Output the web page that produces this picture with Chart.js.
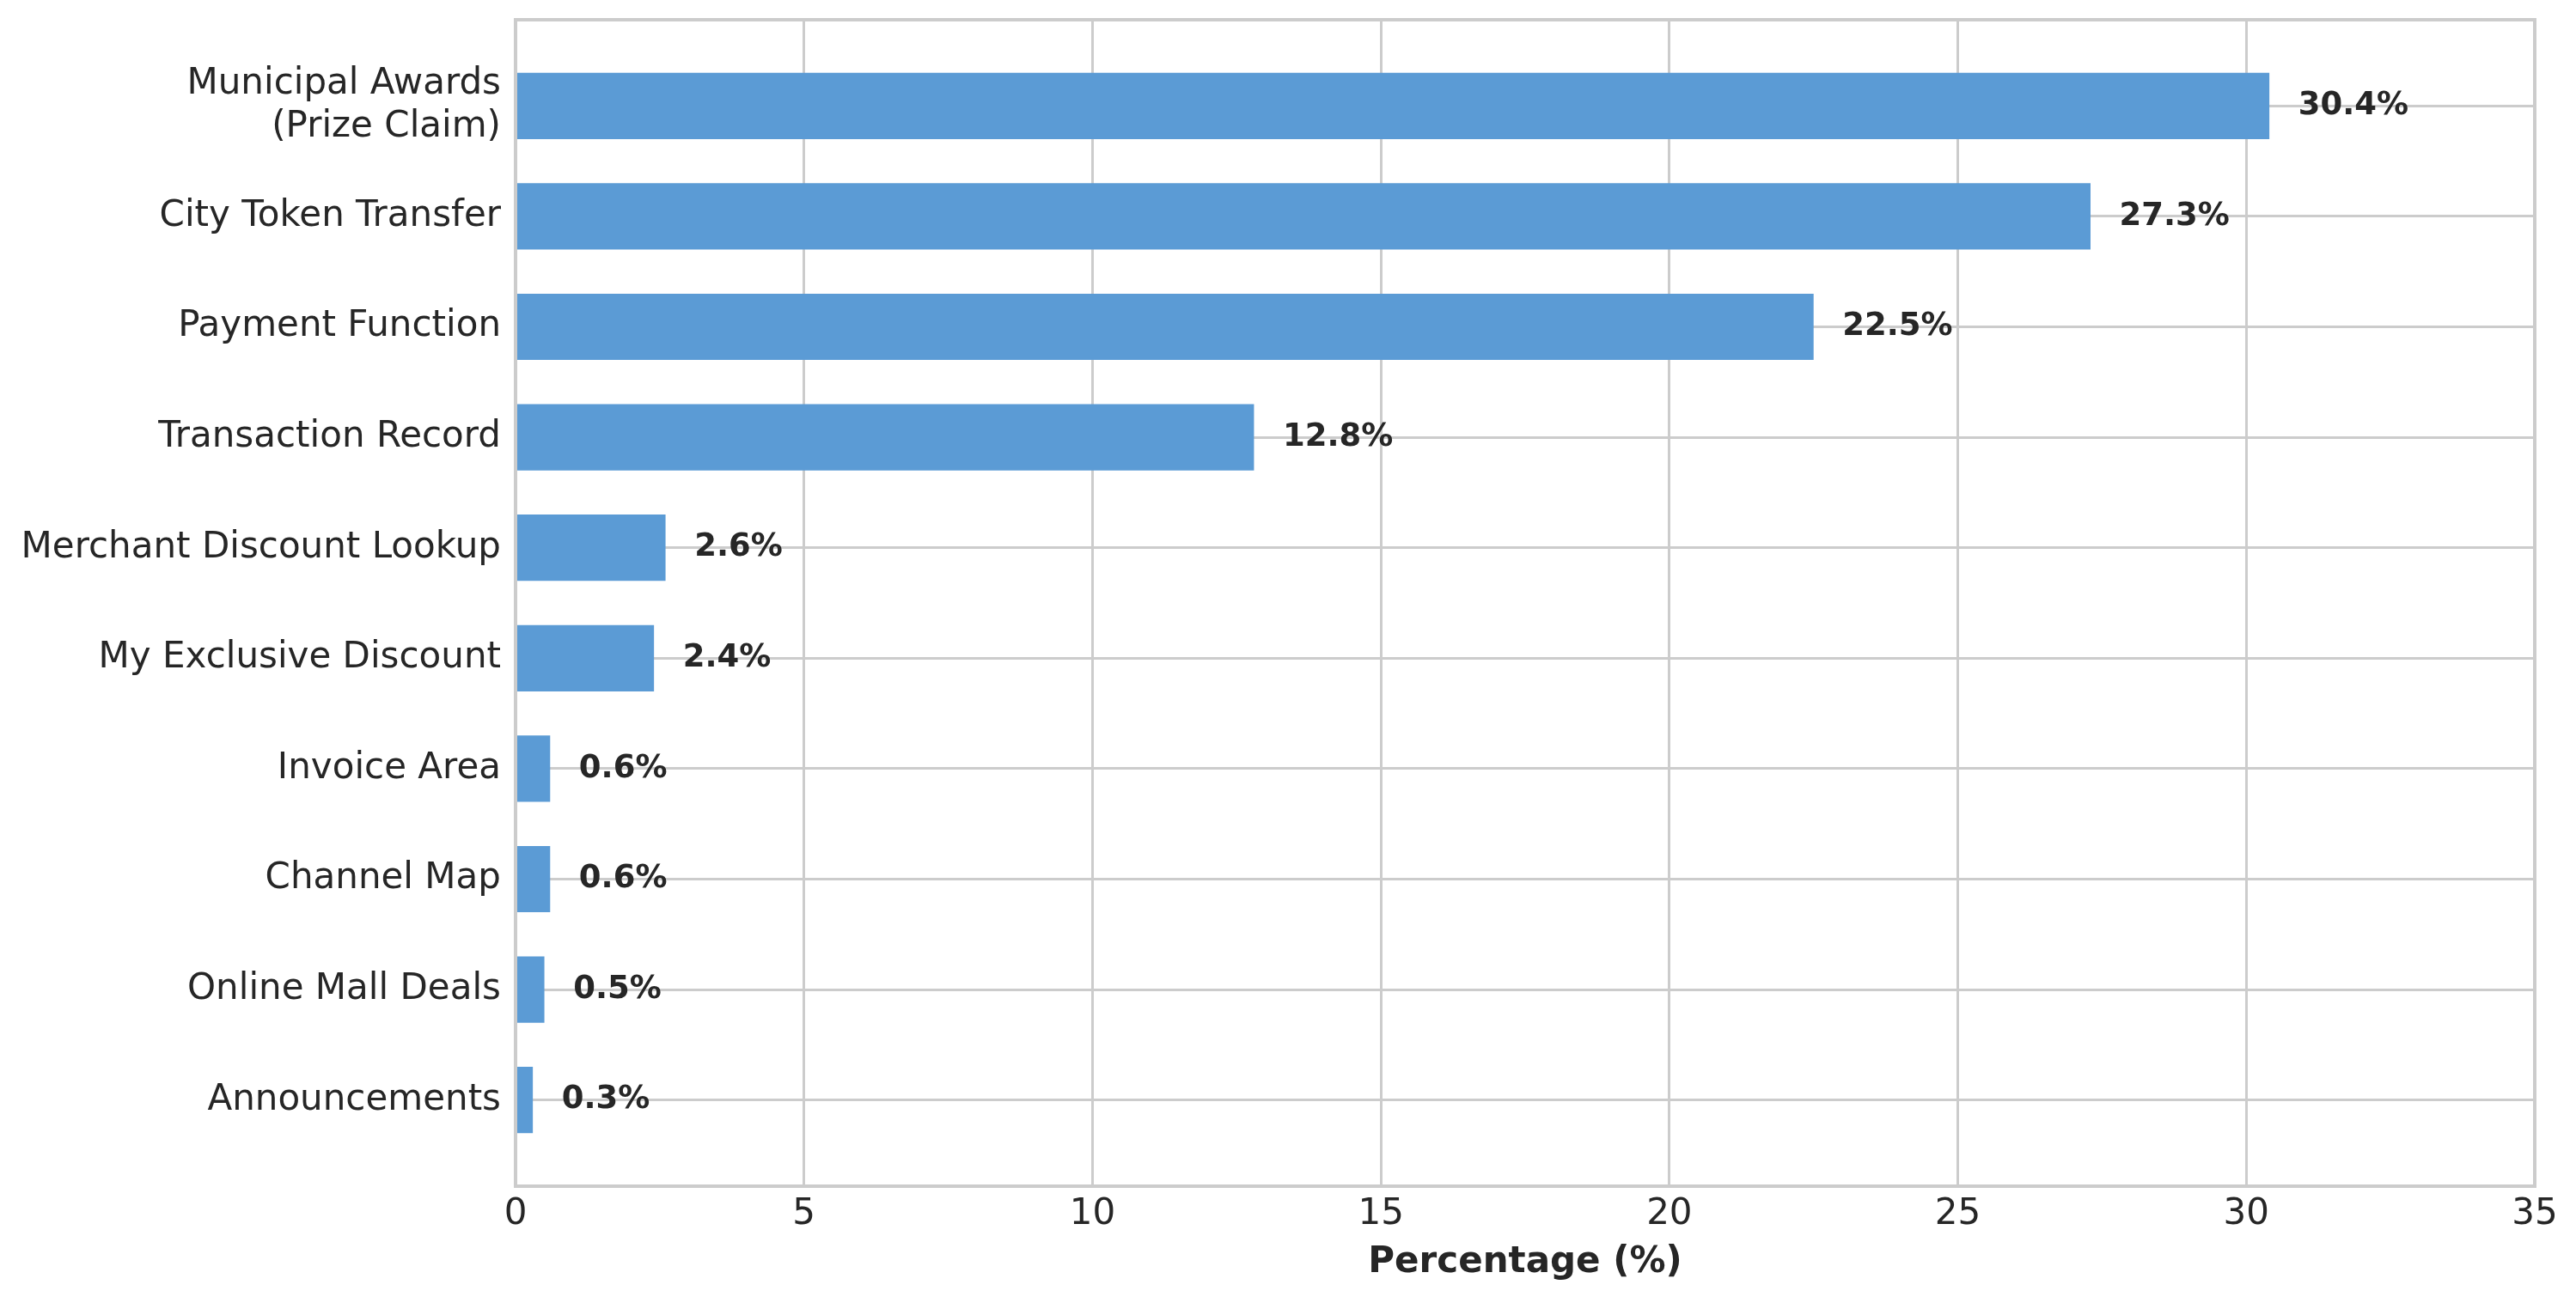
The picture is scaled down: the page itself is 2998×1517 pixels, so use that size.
<!DOCTYPE html>
<html>
<head>
<meta charset="utf-8">
<script src="https://cdn.jsdelivr.net/npm/chart.js@4.4.1/dist/chart.umd.min.js"></script>
<style>
  html, body { margin: 0; padding: 0; background: #ffffff; }
  #wrap { width: 2998px; height: 1517px; }
</style>
</head>
<body>
<div id="wrap"><canvas id="c" width="2998" height="1517"></canvas></div>
<script>
const categories = [
  "Municipal Awards\n(Prize Claim)",
  "City Token Transfer",
  "Payment Function",
  "Transaction Record",
  "Merchant Discount Lookup",
  "My Exclusive Discount",
  "Invoice Area",
  "Channel Map",
  "Online Mall Deals",
  "Announcements"
];
const percentages = [30.4, 27.3, 22.5, 12.8, 2.6, 2.4, 0.6, 0.6, 0.5, 0.3];
const xTicks = [0, 5, 10, 15, 20, 25, 30, 35];
const xAxisTitle = "Percentage (%)";

const TEXT = "#262626";
const GRID = "#cccccc";
const FONT = "'DejaVu Sans', sans-serif";

const frame = {
  id: "frame",
  afterDraw(chart) {
    const a = chart.chartArea, ctx = chart.ctx;
    ctx.save();
    ctx.strokeStyle = GRID;
    ctx.lineWidth = 4;
    ctx.strokeRect(a.left, a.top, a.right - a.left, a.bottom - a.top);
    ctx.restore();
  }
};

const valueLabels = {
  id: "valueLabels",
  afterDatasetsDraw(chart) {
    const ctx = chart.ctx;
    const xs = chart.scales.x;
    const meta = chart.getDatasetMeta(0);
    ctx.save();
    ctx.font = "bold 37px " + FONT;
    ctx.fillStyle = TEXT;
    ctx.textAlign = "left";
    ctx.textBaseline = "middle";
    meta.data.forEach((bar, i) => {
      const v = percentages[i];
      ctx.fillText(v.toFixed(1) + "%", xs.getPixelForValue(v + 0.5), bar.y);
    });
    ctx.restore();
  }
};

new Chart(document.getElementById("c"), {
  type: "bar",
  data: {
    datasets: [{
      data: percentages.map((v, i) => ({ x: v, y: i })),
      backgroundColor: "#5b9bd5",
      borderWidth: 0,
      barPercentage: 0.6,
      categoryPercentage: 1.0
    }]
  },
  options: {
    indexAxis: "y",
    responsive: false,
    devicePixelRatio: 1,
    animation: false,
    layout: { padding: { top: 23, right: 48, left: 0, bottom: 0 } },
    plugins: { legend: { display: false }, tooltip: { enabled: false } },
    scales: {
      x: {
        type: "linear",
        min: 0,
        max: 35,
        afterBuildTicks(scale) { scale.ticks = xTicks.map(v => ({ value: v })); },
        afterFit(scale) { scale.height = 136; },
        grid: { color: GRID, lineWidth: 3, drawTicks: false },
        border: { display: false },
        ticks: { color: TEXT, font: { family: FONT, size: 42 }, padding: 8, maxRotation: 0 },
        title: {
          display: true,
          text: xAxisTitle,
          color: TEXT,
          font: { family: FONT, size: 42, weight: "bold" },
          padding: { top: 0, bottom: 22 }
        }
      },
      y: {
        type: "linear",
        reverse: true,
        offset: false,
        min: -0.78,
        max: categories.length - 1 + 0.78,
        afterBuildTicks(scale) { scale.ticks = categories.map((c, i) => ({ value: i })); },
        afterFit(scale) {
          scale.width = 600;
          scale.paddingTop = 0;
          scale.paddingBottom = 0;
        },
        grid: { color: GRID, lineWidth: 3, drawTicks: false, offset: false },
        border: { display: false },
        ticks: {
          color: TEXT,
          font: { family: FONT, size: 42 },
          padding: 17,
          autoSkip: false,
          callback: (v) => {
            const c = categories[v];
            if (c === undefined) return "";
            return c.includes("\n") ? c.split("\n") : c;
          }
        }
      }
    }
  },
  plugins: [frame, valueLabels]
});
</script>
</body>
</html>
